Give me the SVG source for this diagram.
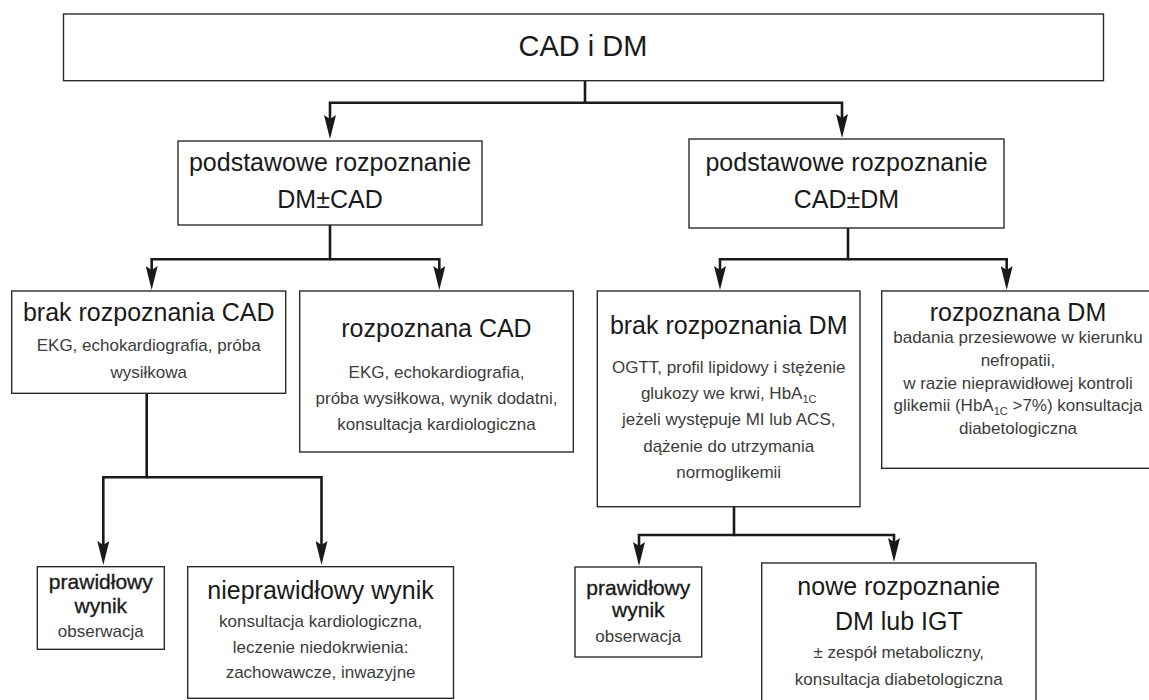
<svg xmlns="http://www.w3.org/2000/svg" width="1149" height="700" viewBox="0 0 1149 700">
<style>
.box{fill:#fff;stroke:#2b2b2b;stroke-width:1.4}
.t{font-family:"Liberation Sans",Arial,sans-serif;text-anchor:middle;fill:#1a1a1a}
.hd{font-size:29px}
.ti{font-size:25px}
.tm{font-size:21px;stroke:#1a1a1a;stroke-width:0.35}
.b{font-size:17px;fill:#3c3c3c}
.sub{font-size:11px}
.cn{fill:none;stroke:#1a1a1a;stroke-width:2.6}
</style>
<defs>
<marker id="ah" markerUnits="userSpaceOnUse" markerWidth="24" markerHeight="12" viewBox="0 0 24 12" refX="14" refY="6" orient="auto">
<path d="M0,0 L24,6 L0,12 L4,6 Z" fill="#1a1a1a"/>
</marker>
</defs>
<rect width="1149" height="700" fill="#fff"/>
<g id="connectors">
<path class="cn" d="M585,80.7 V102.7 H330 V129" marker-end="url(#ah)"/>
<path class="cn" d="M585,102.7 H842 V128" marker-end="url(#ah)"/>
<path class="cn" d="M330,225 V259.3 H151.7 V280" marker-end="url(#ah)"/>
<path class="cn" d="M330,259.3 H439.3 V280" marker-end="url(#ah)"/>
<path class="cn" d="M848,228 V259.3 H720 V280" marker-end="url(#ah)"/>
<path class="cn" d="M848,259.3 H1006.7 V280" marker-end="url(#ah)"/>
<path class="cn" d="M146.7,393.3 V477.3 H103.3 V555" marker-end="url(#ah)"/>
<path class="cn" d="M146.7,477.3 H321.5 V555" marker-end="url(#ah)"/>
<path class="cn" d="M734,506.7 V535 H639 V556" marker-end="url(#ah)"/>
<path class="cn" d="M734,535 H894 V552" marker-end="url(#ah)"/>
</g>
<g id="n-top">
<rect class="box" x="63.5" y="14" width="1040" height="66.7"/>
<text class="t hd" x="583" y="56">CAD i DM</text>
</g>
<g id="n-dmcad">
<rect class="box" x="178" y="141" width="304" height="84"/>
<text class="t ti" x="330" y="171">podstawowe rozpoznanie</text>
<text class="t ti" x="330" y="208">DM±CAD</text>
</g>
<g id="n-caddm">
<rect class="box" x="689" y="139" width="315" height="89"/>
<text class="t ti" x="846.5" y="171">podstawowe rozpoznanie</text>
<text class="t ti" x="846.5" y="208">CAD±DM</text>
</g>
<g id="n-brakcad">
<rect class="box" x="11.7" y="291" width="274" height="102.3"/>
<text class="t ti" x="148.7" y="320.7">brak rozpoznania CAD</text>
<text class="t b" x="148.7" y="350.7">EKG, echokardiografia, próba</text>
<text class="t b" x="148.7" y="378.3">wysiłkowa</text>
</g>
<g id="n-rozpcad">
<rect class="box" x="299.7" y="291" width="273.6" height="161"/>
<text class="t ti" x="436.5" y="337">rozpoznana CAD</text>
<text class="t b" x="436.5" y="378">EKG, echokardiografia,</text>
<text class="t b" x="436.5" y="404">próba wysiłkowa, wynik dodatni,</text>
<text class="t b" x="436.5" y="430">konsultacja kardiologiczna</text>
</g>
<g id="n-brakdm">
<rect class="box" x="597.3" y="291" width="262.7" height="215.7"/>
<text class="t ti" x="728.7" y="334">brak rozpoznania DM</text>
<text class="t b" x="728.7" y="372.7">OGTT, profil lipidowy i stężenie</text>
<text class="t b" x="728.7" y="399">glukozy we krwi, HbA<tspan class="sub" dy="4">1C</tspan></text>
<text class="t b" x="728.7" y="425.3">jeżeli występuje MI lub ACS,</text>
<text class="t b" x="728.7" y="451.7">dążenie do utrzymania</text>
<text class="t b" x="728.7" y="478">normoglikemii</text>
</g>
<g id="n-rozpdm">
<rect class="box" x="881.7" y="291" width="272" height="177.3"/>
<text class="t ti" x="1018" y="320.7">rozpoznana DM</text>
<text class="t b" x="1018" y="343.3">badania przesiewowe w kierunku</text>
<text class="t b" x="1018" y="366">nefropatii,</text>
<text class="t b" x="1018" y="388.7">w razie nieprawidłowej kontroli</text>
<text class="t b" x="1018" y="411.3">glikemii (HbA<tspan class="sub" dy="4">1C</tspan><tspan dy="-4"> &gt;7%) konsultacja</tspan></text>
<text class="t b" x="1018" y="434">diabetologiczna</text>
</g>
<g id="n-praw1">
<rect class="box" x="37.3" y="566.7" width="127" height="82.6"/>
<text class="t tm" x="100.8" y="589.3">prawidłowy</text>
<text class="t tm" x="100.8" y="613.3">wynik</text>
<text class="t b" x="100.8" y="637.3">obserwacja</text>
</g>
<g id="n-niepraw">
<rect class="box" x="187.7" y="566.7" width="265.8" height="131.6"/>
<text class="t ti" x="320.6" y="599.3">nieprawidłowy wynik</text>
<text class="t b" x="320.6" y="626.7">konsultacja kardiologiczna,</text>
<text class="t b" x="320.6" y="653.3">leczenie niedokrwienia:</text>
<text class="t b" x="320.6" y="678.3">zachowawcze, inwazyjne</text>
</g>
<g id="n-praw2">
<rect class="box" x="575" y="567" width="126.7" height="90"/>
<text class="t tm" x="638.3" y="595">prawidłowy</text>
<text class="t tm" x="638.3" y="616.7">wynik</text>
<text class="t b" x="638.3" y="641.7">obserwacja</text>
</g>
<g id="n-nowe">
<rect class="box" x="761.7" y="563" width="274.3" height="140"/>
<text class="t ti" x="898.8" y="595">nowe rozpoznanie</text>
<text class="t ti" x="898.8" y="630">DM lub IGT</text>
<text class="t b" x="898.8" y="658">± zespół metaboliczny,</text>
<text class="t b" x="898.8" y="685">konsultacja diabetologiczna</text>
</g>
</svg>
